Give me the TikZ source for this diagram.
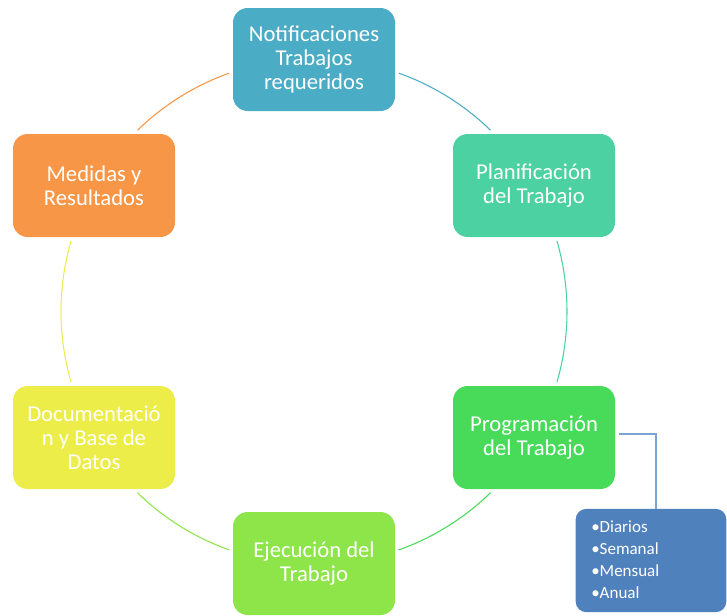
\documentclass[tikz,border=0pt]{standalone}
\usepackage{fontspec}
\setmainfont{Carlito}
\begin{document}
\begin{tikzpicture}[x=0.75pt,y=0.75pt,
  stagebox/.style={rounded corners=11pt, minimum width=121.5pt, minimum height=77.25pt,
    align=center, text=white, inner sep=2pt,
    font=\fontsize{17}{18}\selectfont},
  ring/.style={line width=0.8pt},
  link/.style={draw=linkblue, line width=1.1pt},
  listbox/.style={rounded corners=8pt, fill=listblue, minimum width=113pt, minimum height=77.5pt},
  listtext/.style={text=white, align=left, font=\fontsize{12.75}{16.5}\selectfont, inner sep=0pt}
]
\definecolor{cAqua}{HTML}{4BACC6}
\definecolor{cTeal}{HTML}{4BD1A2}
\definecolor{cGreen}{HTML}{48DB5A}
\definecolor{cLime}{HTML}{8EE54A}
\definecolor{cYellow}{HTML}{EDED4A}
\definecolor{cOrange}{HTML}{F79646}
\definecolor{listblue}{HTML}{4F81BD}
\definecolor{linkblue}{HTML}{7BA3D3}

\useasboundingbox (0,0) rectangle (727,-615);

% centre of the cycle
\coordinate (c) at (314,-311.5);

% the six stages
\node[stagebox, fill=cAqua]   (b1) at (314,-59.5)  {Notificaciones\\Trabajos\\requeridos};
\node[stagebox, fill=cTeal]   (b2) at (534,-185.5) {Planificación\\del Trabajo};
\node[stagebox, fill=cGreen]  (b3) at (534,-437.5) {Programación\\del Trabajo};
\node[stagebox, fill=cLime]   (b4) at (314,-563.5) {Ejecución del\\Trabajo};
\node[stagebox, fill=cYellow] (b5) at (94,-437.5)  {Documentació\\n y Base de\\Datos};
\node[stagebox, fill=cOrange] (b6) at (94,-185.5)  {Medidas y\\Resultados};

% arcs of the cycle, each in the colour of the stage it leaves
\draw[ring, draw=cAqua]   (c) ++(70.4:253)  arc[start angle=70.4,  end angle=45.8,  radius=253];
\draw[ring, draw=cTeal]   (c) ++(16.2:253)  arc[start angle=16.2,  end angle=-16.2, radius=253];
\draw[ring, draw=cGreen]  (c) ++(-45.7:253) arc[start angle=-45.7, end angle=-70.5, radius=253];
\draw[ring, draw=cLime]   (c) ++(-109.5:253) arc[start angle=-109.5, end angle=-134.3, radius=253];
\draw[ring, draw=cYellow] (c) ++(196.2:253) arc[start angle=196.2, end angle=163.8, radius=253];
\draw[ring, draw=cOrange] (c) ++(134.2:253) arc[start angle=134.2, end angle=109.6, radius=253];

% schedule list attached to the programming stage
\node[listbox] (list) at (651,-560.5) {};
\node[listtext, anchor=north west] (items) at (591,-521)
  {•Diarios\\•Semanal\\•Mensual\\•Anual};

\coordinate (k) at (656,-434);
\draw[link] ([xshift=3pt]b3.east |- k) -- (k) -- (k |- list.north);
\end{tikzpicture}
\end{document}
